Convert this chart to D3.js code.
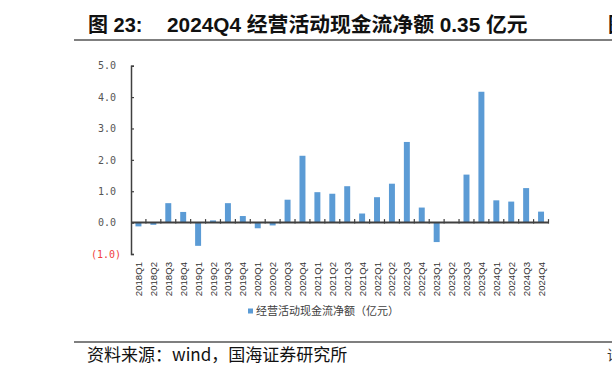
<!DOCTYPE html>
<html>
<head>
<meta charset="utf-8">
<title>2024Q4 经营活动现金流净额</title>
<script src="https://cdn.jsdelivr.net/npm/d3@7/dist/d3.min.js"></script>
<style>
  html, body { margin: 0; padding: 0; background: #fff; overflow: hidden; }
  svg { display: block; }
</style>
</head>
<body>
<svg id="chart" width="612" height="378"></svg>
<script>
// quarters on the x axis
const quarters = ["2018Q1","2018Q2","2018Q3","2018Q4","2019Q1","2019Q2","2019Q3","2019Q4",
  "2020Q1","2020Q2","2020Q3","2020Q4","2021Q1","2021Q2","2021Q3","2021Q4",
  "2022Q1","2022Q2","2022Q3","2022Q4","2023Q1","2023Q2","2023Q3","2023Q4",
  "2024Q1","2024Q2","2024Q3","2024Q4"];
// net operating cash flow, 亿元
const cashFlow = [-0.12, -0.07, 0.62, 0.34, -0.74, 0.07, 0.62, 0.21,
  -0.18, -0.09, 0.73, 2.13, 0.97, 0.92, 1.16, 0.29,
  0.81, 1.24, 2.57, 0.48, -0.62, 0.0, 1.53, 4.17,
  0.71, 0.67, 1.10, 0.35];
const yTicks = [-1, 0, 1, 2, 3, 4, 5];
const seriesName = "经营活动现金流净额（亿元）";

const svg = d3.select("#chart");
const cjk = "'Noto Sans CJK SC', 'Noto Sans', sans-serif";

// title + rules
svg.append("text").attr("x", 88).attr("y", 32)
  .attr("font-family", "'Liberation Sans', " + cjk).attr("font-weight", "bold")
  .attr("font-size", 20).attr("fill", "#111").text("图 23:");
svg.append("text").attr("x", 167).attr("y", 32)
  .attr("font-family", "'Liberation Sans', " + cjk).attr("font-weight", "bold")
  .attr("font-size", 20.8).attr("fill", "#111").text("2024Q4 经营活动现金流净额 0.35 亿元");
// neighbouring column's title, cut by the page edge as in the source
svg.append("text").attr("x", 608).attr("y", 32)
  .attr("font-family", cjk).attr("font-weight", "bold")
  .attr("font-size", 20).attr("fill", "#111").text("图");
svg.append("line").attr("x1", 74).attr("x2", 612).attr("y1", 40).attr("y2", 40)
  .attr("stroke", "#555").attr("stroke-width", 1.5);
svg.append("line").attr("x1", 74).attr("x2", 612).attr("y1", 342).attr("y2", 342)
  .attr("stroke", "#555").attr("stroke-width", 1.5);
svg.append("text").attr("x", 87).attr("y", 361)
  .attr("font-family", cjk).attr("font-size", 17).attr("fill", "#111")
  .text("资料来源：wind，国海证券研究所");
svg.append("text").attr("x", 607).attr("y", 360)
  .attr("font-family", cjk).attr("font-size", 14).attr("fill", "#333").text("请");

// scales
const x = d3.scaleBand().domain(quarters).range([131, 548.5]).padding(0);
const y = d3.scaleLinear().domain([-1, 5]).range([254, 65.7]);

// bars
svg.append("g")
  .selectAll("rect")
  .data(quarters)
  .join("rect")
  .attr("x", d => x(d) + x.bandwidth() * 0.3)
  .attr("width", x.bandwidth() * 0.4)
  .attr("y", (d, i) => y(Math.max(0, cashFlow[i])))
  .attr("height", (d, i) => Math.abs(y(cashFlow[i]) - y(0)))
  .attr("fill", "#5B9BD5");

// y axis
const yAxis = svg.append("g")
  .attr("transform", "translate(131,0)")
  .call(d3.axisLeft(y).tickValues(yTicks).tickSize(-3).tickPadding(15)
    .tickFormat(d => d < 0 ? `(${Math.abs(d).toFixed(1)})` : d.toFixed(1)));
yAxis.select(".domain").attr("stroke", "#404040").attr("stroke-width", 1.5);
yAxis.selectAll(".tick line").attr("stroke", "#404040").attr("stroke-width", 1.2);
yAxis.selectAll(".tick text")
  .attr("font-family", "'DejaVu Sans Mono', monospace")
  .attr("font-size", 10)
  .attr("fill", d => d < 0 ? "#f03c3c" : "#555")
  .attr("x", d => d < 0 ? -10 : -15);

// x axis at zero
const xAxis = svg.append("g");
xAxis.append("line")
  .attr("x1", x.range()[0]).attr("x2", x.range()[1])
  .attr("y1", y(0)).attr("y2", y(0))
  .attr("stroke", "#404040").attr("stroke-width", 2);
const bounds = quarters.slice(1).map(d => x(d)).concat([x.range()[1]]);
xAxis.selectAll("line.tk")
  .data(bounds)
  .join("line")
  .attr("class", "tk")
  .attr("x1", d => d).attr("x2", d => d)
  .attr("y1", y(0) - 3.5).attr("y2", y(0) + 1)
  .attr("stroke", "#404040").attr("stroke-width", 1.2);

// x labels, rotated, hung below the plot
svg.append("g")
  .selectAll("text")
  .data(quarters)
  .join("text")
  .attr("transform", d => `translate(${x(d) + x.bandwidth() / 2 + 3.5},262) rotate(-90)`)
  .attr("text-anchor", "end")
  .attr("font-family", "'Liberation Sans', Arial, sans-serif")
  .attr("font-size", 9.6)
  .attr("fill", "#333")
  .text(d => d);

// legend
const lg = svg.append("g").attr("transform", "translate(248,311)");
lg.append("rect").attr("x", 0).attr("y", -2.5).attr("width", 5).attr("height", 5).attr("fill", "#5B9BD5");
lg.append("text").attr("x", 8).attr("y", 4)
  .attr("font-family", cjk).attr("font-size", 11).attr("fill", "#404040")
  .text(seriesName);
</script>
</body>
</html>
